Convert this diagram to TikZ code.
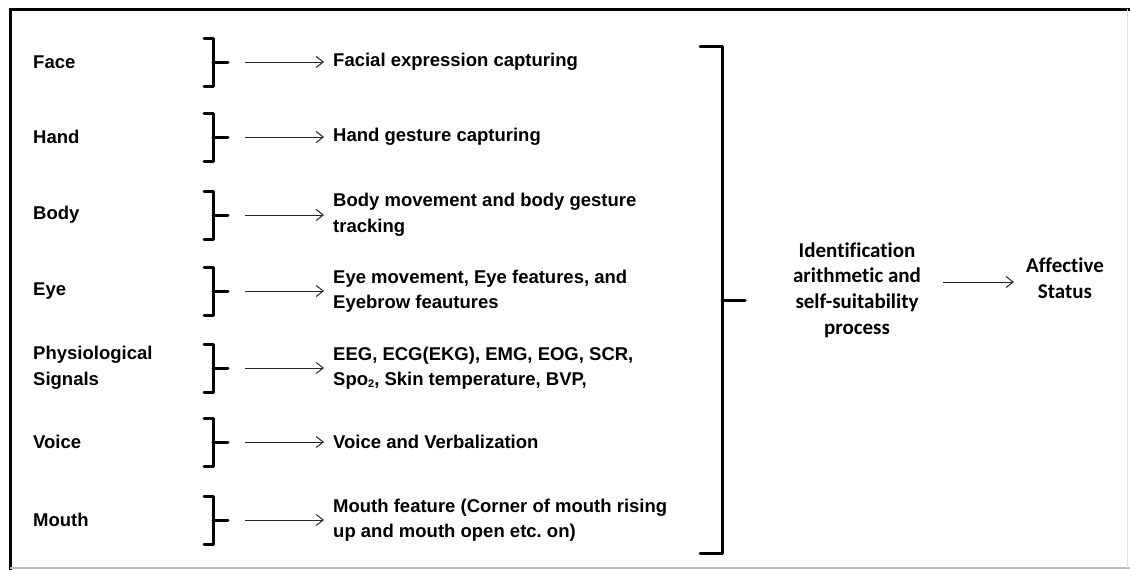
\documentclass[tikz,border=0pt]{standalone}
\usepackage{fontspec}
\setmainfont{Liberation Sans}
\newfontfamily\calib[Ligatures=NoCommon]{Carlito}
\usetikzlibrary{arrows.meta,calc}
\tikzset{
  lbl/.style={anchor=west,inner sep=0pt,align=left,font=\fontsize{18.5}{26}\selectfont\bfseries},
  desc/.style={anchor=west,inner sep=0pt,align=left,font=\fontsize{18.5}{25.5}\selectfont\bfseries},
  ctr/.style={inner sep=0pt,align=center,font=\calib\fontsize{21}{25.7}\selectfont\bfseries},
  brk/.style={line width=3pt,line cap=round,line join=round},
  arr/.style={line width=1pt,black!85,-{Straight Barb[length=7pt,width=11pt,line width=1pt]}},
  frame/.style={line width=3pt}
}
\begin{document}
\begin{tikzpicture}[x=1pt,y=-1pt]
\useasboundingbox (0,0) rectangle (1130,570);
% frame
\draw[frame] (10,570) -- (10,9) -- (1130,9);
\draw[black!25,line width=1.5pt] (10,568) -- (1130,568);
\draw[black!12,line width=1pt] (1127,9) -- (1127,568);
% rows
\foreach \n/\y/\l/\d in {
  1/62/{Face}/{Facial expression capturing},
  2/137/{Hand}/{Hand gesture capturing},
  3/215/{Body}/{Body movement and body gesture\\tracking},
  4/291/{Eye}/{Eye movement, Eye features, and\\Eyebrow feautures},
  5/368/{Physiological\\Signals}/{EEG, ECG(EKG), EMG, EOG, SCR,\\Spo{\fontsize{11}{11}\selectfont\raisebox{-1.5pt}{2}}, Skin temperature, BVP,},
  6/442/{Voice}/{Voice and Verbalization},
  7/520/{Mouth}/{Mouth feature (Corner of mouth rising\\up and mouth open etc.\ on)}}{
  \node[lbl] (lab\n) at (33,\y) {\l};
  \coordinate (tip\n) at (228,\y);
  \draw[brk] (204,\y-24) -- (213,\y-24) -- (213,\y+24) -- (204,\y+24);
  \draw[brk] (213,\y) -- (tip\n);
  \node[desc] (desc\n) at (333,\y) {\d};
  \draw[arr,shorten <=17pt,shorten >=9pt] (tip\n) -- (tip\n -| desc\n.west);
}
% big bracket
\coordinate (bigtip) at (745,300);
\draw[brk] (700,46) -- (722,46) -- (722,553) -- (700,553);
\draw[brk] (722,300) -- (bigtip);
% right part
\node[ctr] (ident) at (857,290) {Identification\\arithmetic and\\self-suitability\\process};
\node[ctr] (aff) at (1065,278) {Affective\\Status};
\coordinate (am) at (0,282);
\draw[arr,shorten <=22pt,shorten >=12pt] (ident.east |- am) -- (aff.west |- am);
\end{tikzpicture}
\end{document}
